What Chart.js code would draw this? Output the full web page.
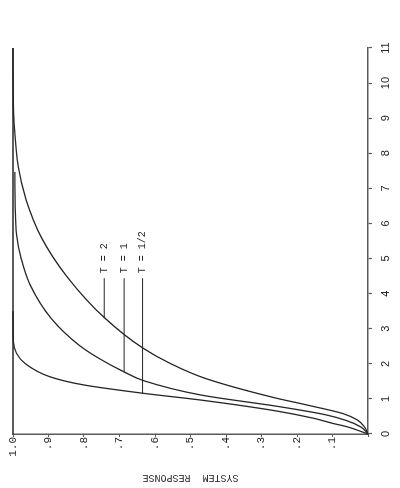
<!DOCTYPE html>
<html>
<head>
<meta charset="utf-8">
<script src="https://cdn.jsdelivr.net/npm/chart.js@4/dist/chart.umd.min.js"></script>
<style>
  html, body { margin: 0; padding: 0; background: #fff; }
  body { width: 400px; height: 488px; overflow: hidden; position: relative; }
  /* the plot is drawn upright, then turned a quarter turn like the printed page */
  #wrap { position: absolute; left: 0; top: 0; width: 488px; height: 400px;
          transform-origin: 0 0; transform: translate(0, 488px) rotate(-90deg); }
</style>
</head>
<body>
<div id="wrap"><canvas id="c" width="488" height="400"></canvas></div>
<script>
// time axis (horizontal before the turn)
const timeTicks = [0, 1, 2, 3, 4, 5, 6, 7, 8, 9, 10, 11];
// response axis
const respTickLabels = ['', '.1', '.2', '.3', '.4', '.5', '.6', '.7', '.8', '.9', '1.0'];

// T = 1/2
const halfTime = [0, 0.11, 0.21, 0.30, 0.45, 0.66, 0.97, 1.16, 1.40, 1.63, 2.01, 2.30, 2.63, 3.5];
const halfResp = [0, 0.03, 0.06, 0.098, 0.154, 0.26, 0.473, 0.633, 0.802, 0.896, 0.966, 0.99, 0.999, 1.0];
// T = 1
const oneTime = [0, 0.2, 0.38, 0.55, 0.78, 1.11, 1.52, 1.78, 2.15, 2.54, 3.30, 4.25, 5.0, 5.67, 6.5, 7.47];
const oneResp = [0, 0.02, 0.06, 0.12, 0.25, 0.47, 0.632, 0.689, 0.757, 0.815, 0.893, 0.952, 0.977, 0.99, 0.994, 0.995];
// T = 2
const twoTime = [0, 0.2, 0.4, 0.58, 0.8, 1.05, 1.59, 2.0, 2.44, 3.30, 4.5, 5.6, 6.67, 7.6, 8.85, 10.3, 11];
const twoResp = [0, 0.01, 0.03, 0.07, 0.16, 0.27, 0.46, 0.555, 0.633, 0.741, 0.849, 0.92, 0.963, 0.985, 0.997, 1.0, 1.0];

// final value line
const finalTime = [0, 11];
const finalResp = [1.0, 1.0];

// curve labels and their leader lines
const labelNames = ['T = 2', 'T = 1', 'T = 1/2'];
const labelResp = [0.743, 0.687, 0.635];
const leaderFrom = [3.30, 1.78, 1.16];
const leaderTo = 4.44;
const labelTime = 4.58;

const INK = '#262626';
const AXIS = '#5a5a5a';

function pts(xs, ys){ return xs.map((x, i) => ({ x: x, y: ys[i] })); }

function curve(data, width){
  return { data: data, borderColor: INK, borderWidth: width, pointRadius: 0,
           fill: false, cubicInterpolationMode: 'monotone', clip: false };
}

const datasets = [
  curve(pts(finalTime, finalResp), 1.4),
  curve(pts(twoTime, twoResp), 1.3),
  curve(pts(oneTime, oneResp), 1.3),
  curve(pts(halfTime, halfResp), 1.3)
];
labelResp.forEach((r, i) => {
  datasets.push({ data: pts([leaderFrom[i], leaderTo], [r, r]), borderColor: INK,
                  borderWidth: 1, pointRadius: 0, fill: false, clip: false });
});

const labelPlugin = {
  id: 'curveLabels',
  afterDatasetsDraw(chart){
    const { ctx, scales: { x, y } } = chart;
    ctx.save();
    ctx.font = '10px "Liberation Mono", "DejaVu Sans Mono", monospace';
    ctx.fillStyle = INK;
    ctx.textAlign = 'left';
    ctx.textBaseline = 'middle';
    labelNames.forEach((name, i) => {
      ctx.fillText(name, x.getPixelForValue(labelTime), y.getPixelForValue(labelResp[i]));
    });
    ctx.restore();
  }
};

new Chart(document.getElementById('c').getContext('2d'), {
  type: 'line',
  data: { datasets: datasets },
  options: {
    responsive: false,
    animation: false,
    layout: { padding: { top: 13, right: 48, left: 0, bottom: 0 } },
    plugins: { legend: { display: false }, tooltip: { enabled: false } },
    scales: {
      x: {
        type: 'linear', min: 0, max: 11,
        afterFit: s => { s.height = 32; },
        afterBuildTicks: s => { s.ticks = timeTicks.map(v => ({ value: v })); },
        ticks: { color: '#222', padding: 7, maxRotation: 0,
                 font: { family: '"Liberation Sans", Arial, sans-serif', size: 11 },
                 callback: v => String(v) },
        grid: { drawOnChartArea: false, tickLength: 4, tickColor: AXIS, tickWidth: 1.2 },
        border: { display: true, color: AXIS, width: 1.5 }
      },
      y: {
        type: 'linear', min: 0, max: 1,
        afterFit: s => { s.width = 54; },
        afterBuildTicks: s => { s.ticks = respTickLabels.map((t, i) => ({ value: i / 10 })); },
        ticks: { color: '#222', padding: 0,
                 font: { family: '"Liberation Mono", "Courier New", monospace', size: 11 },
                 callback: v => respTickLabels[Math.round(v * 10)] },
        grid: { drawOnChartArea: false, tickLength: 3, tickColor: AXIS, tickWidth: 1.2 },
        border: { display: true, color: AXIS, width: 1.5 },
        title: { display: true, text: 'SYSTEM  RESPONSE', color: '#333',
                 padding: { top: 4, bottom: 0 },
                 font: { family: '"Liberation Mono", "Courier New", monospace', size: 10 } }
      }
    }
  },
  plugins: [labelPlugin]
});
</script>
</body>
</html>
